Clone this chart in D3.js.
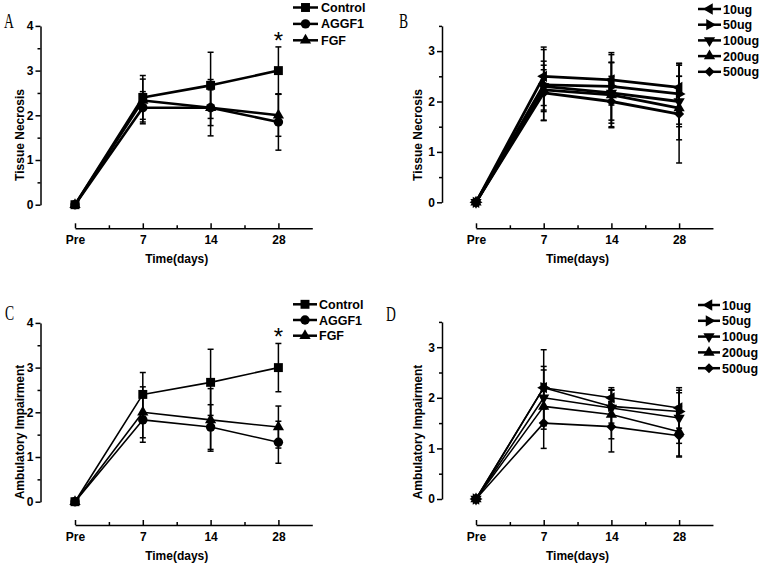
<!DOCTYPE html>
<html><head><meta charset="utf-8">
<script src="https://cdn.jsdelivr.net/npm/d3@7"></script>
<style>body{margin:0;background:#fff}svg{display:block}</style>
</head><body>
<svg id="c" width="764" height="568"></svg>
<script>
// ---------- data ----------
const timeLabels = ["Pre", "7", "14", "28"];
const groupNames = ["Control", "AGGF1", "FGF"];
const doseNames = ["10ug", "50ug", "100ug", "200ug", "500ug"];

// Panel A: Tissue Necrosis by group
const necrosisControl = [0, 2.4, 2.67, 3.0];
const necrosisControlErr = [0, 0.49, 0.74, 0.53];
const necrosisAGGF1 = [0, 2.17, 2.17, 1.85];
const necrosisAGGF1Err = [0, 0.36, 0.63, 0.63];
const necrosisFGF = [0, 2.33, 2.17, 2.0];
const necrosisFGFErr = [0, 0.48, 0.4, 0.47];

// Panel B: Tissue Necrosis by dose
const necrosis10 = [0, 2.5, 2.43, 2.28];
const necrosis10Err = [0, 0.58, 0.5, 0.48];
const necrosis50 = [0, 2.33, 2.3, 2.15];
const necrosis50Err = [0, 0.7, 0.67, 0.6];
const necrosis100 = [0, 2.3, 2.17, 2.0];
const necrosis100Err = [0, 0.5, 0.6, 0.5];
const necrosis200 = [0, 2.23, 2.13, 1.87];
const necrosis200Err = [0, 0.4, 0.65, 0.63];
const necrosis500 = [0, 2.17, 2.0, 1.75];
const necrosis500Err = [0, 0.55, 0.5, 0.97];

// Panel C: Ambulatory Impairment by group
const ambulControl = [0, 2.4, 2.67, 3.0];
const ambulControlErr = [0, 0.49, 0.74, 0.54];
const ambulAGGF1 = [0, 1.83, 1.67, 1.33];
const ambulAGGF1Err = [0, 0.5, 0.5, 0.47];
const ambulFGF = [0, 2.0, 1.83, 1.67];
const ambulFGFErr = [0, 0.57, 0.7, 0.47];

// Panel D: Ambulatory Impairment by dose
const ambul10 = [0, 2.2, 2.0, 1.8];
const ambul10Err = [0, 0.42, 0.2, 0.4];
const ambul50 = [0, 2.2, 1.83, 1.73];
const ambul50Err = [0, 0.75, 0.33, 0.42];
const ambul100 = [0, 2.0, 1.8, 1.6];
const ambul100Err = [0, 0.55, 0.35, 0.5];
const ambul200 = [0, 1.83, 1.67, 1.33];
const ambul200Err = [0, 0.45, 0.48, 0.5];
const ambul500 = [0, 1.5, 1.43, 1.25];
const ambul500Err = [0, 0.5, 0.5, 0.4];

const yTicks4 = [0, 1, 2, 3, 4];
const yTicks35 = [0, 1, 2, 3];

// ---------- drawing ----------
const svg = d3.select("#c");
svg.append("rect").attr("width", 764).attr("height", 568).attr("fill", "#fff");
const FONT = "'Liberation Sans', Arial, sans-serif";

const groupMarkers = [
  {type: d3.symbolSquare, size: 80, rot: 0},
  {type: d3.symbolCircle, size: 70, rot: 0},
  {type: d3.symbolTriangle, size: 55, rot: 0}
];
const doseMarkers = [
  {type: d3.symbolTriangle, size: 55, rot: -90},
  {type: d3.symbolTriangle, size: 55, rot: 90},
  {type: d3.symbolTriangle, size: 55, rot: 180},
  {type: d3.symbolTriangle, size: 55, rot: 0},
  {type: d3.symbolSquare, size: 50, rot: 45}
];

function drawPanel(cfg) {
  const g = svg.append("g");
  const x = d3.scaleLinear().domain([0, 3.5]).range([cfg.x0, cfg.x0 + 3.5 * cfg.step]);
  const y = d3.scaleLinear().domain([0, cfg.ymax]).range([cfg.y0, cfg.y0 - cfg.ymax * cfg.unit]);

  // y axis
  const ya = g.append("g").attr("transform", `translate(${cfg.ax},0)`)
    .call(d3.axisLeft(y).tickValues(cfg.yTicks).tickSize(5).tickSizeOuter(0).tickPadding(2).tickFormat(d3.format("d")));
  const minorY = d3.range(0.5, cfg.ymax + 0.01, 1);
  const ym = g.append("g").attr("transform", `translate(${cfg.ax},0)`)
    .call(d3.axisLeft(y).tickValues(minorY).tickSize(3).tickSizeOuter(0).tickFormat(""));
  ym.select(".domain").remove();

  // x axis
  const xa = g.append("g").attr("transform", `translate(0,${cfg.xAxisY})`)
    .call(d3.axisBottom(x).tickValues([0, 1, 2, 3]).tickFormat(i => timeLabels[i]).tickSize(-5).tickSizeOuter(0).tickPadding(7));
  const xm = g.append("g").attr("transform", `translate(0,${cfg.xAxisY})`)
    .call(d3.axisBottom(x).tickValues([0.5, 1.5, 2.5]).tickSize(-3).tickSizeOuter(0).tickFormat(""));
  xm.select(".domain").remove();

  [ya, ym, xa, xm].forEach(a => {
    a.selectAll("path,line").attr("stroke", "#000").attr("stroke-width", 1.5);
    a.selectAll("text").attr("fill", "#000").attr("font-family", FONT).attr("font-weight", "bold").attr("font-size", 12);
  });

  // axis titles
  g.append("text").attr("transform", `translate(${cfg.ylabX},${cfg.ylabY}) rotate(-90)`)
    .attr("text-anchor", "middle").attr("font-family", FONT).attr("font-weight", "bold").attr("font-size", 12)
    .text(cfg.ylabel);
  g.append("text").attr("x", x(1.5) + cfg.xlabDx).attr("y", cfg.xAxisY + 35)
    .attr("text-anchor", "middle").attr("font-family", FONT).attr("font-weight", "bold").attr("font-size", 12)
    .text("Time(days)");

  // panel letter
  g.append("text").attr("transform", `translate(${cfg.letterX},${cfg.letterY}) scale(0.62,1)`)
    .attr("font-family", "'Liberation Serif', 'Times New Roman', serif").attr("font-size", 22)
    .text(cfg.letter);

  const line = d3.line().x((d, j) => x(j)).y(d => y(d));

  // lines
  cfg.series.forEach(s => {
    g.append("path").datum(s.mean).attr("d", line).attr("fill", "none")
      .attr("stroke", "#000").attr("stroke-width", cfg.lw).attr("stroke-linejoin", "round");
  });
  // error bars
  cfg.series.forEach(s => {
    s.mean.forEach((m, j) => {
      const e = s.err[j];
      if (!e) return;
      const cx = x(j);
      g.append("line").attr("x1", cx).attr("x2", cx).attr("y1", y(m - e)).attr("y2", y(m + e))
        .attr("stroke", "#000").attr("stroke-width", 1.5);
      [m - e, m + e].forEach(v => {
        g.append("line").attr("x1", cx - 3).attr("x2", cx + 3).attr("y1", y(v)).attr("y2", y(v))
          .attr("stroke", "#000").attr("stroke-width", 1.5);
      });
    });
  });
  // markers
  cfg.series.forEach((s, k) => {
    const mk = cfg.markers[k];
    s.mean.forEach((m, j) => {
      g.append("path").attr("d", d3.symbol().type(mk.type).size(mk.size)())
        .attr("transform", `translate(${x(j)},${y(m)}) rotate(${mk.rot})`).attr("fill", "#000");
    });
  });

  // legend
  cfg.series.forEach((s, k) => {
    const ly = cfg.legY + k * cfg.legDy;
    g.append("line").attr("x1", cfg.legX1).attr("x2", cfg.legX2).attr("y1", ly).attr("y2", ly)
      .attr("stroke", "#000").attr("stroke-width", 2.5);
    const mk = cfg.markers[k];
    g.append("path").attr("d", d3.symbol().type(mk.type).size(mk.size)())
      .attr("transform", `translate(${(cfg.legX1 + cfg.legX2) / 2},${ly}) rotate(${mk.rot})`).attr("fill", "#000");
    g.append("text").attr("x", cfg.legTx).attr("y", ly).attr("dy", "0.36em")
      .attr("font-family", FONT).attr("font-weight", "bold").attr("font-size", 12.5)
      .text(s.name);
  });

  if (cfg.star) {
    g.append("text").attr("x", x(3)).attr("y", cfg.starY).attr("text-anchor", "middle")
      .attr("font-family", FONT).attr("font-size", 24).text("*");
  }
}

drawPanel({
  letter: "A", letterX: 4, letterY: 28,
  x0: 75, step: 67.8, y0: 204.7, unit: 44.7, ymax: 4, yTicks: yTicks4, ax: 40.5, xAxisY: 228.3,
  ylabel: "Tissue Necrosis", ylabX: 24, ylabY: 135, xlabDx: 0, lw: 2.6,
  markers: groupMarkers,
  series: [
    {name: groupNames[0], mean: necrosisControl, err: necrosisControlErr},
    {name: groupNames[1], mean: necrosisAGGF1, err: necrosisAGGF1Err},
    {name: groupNames[2], mean: necrosisFGF, err: necrosisFGFErr}
  ],
  legX1: 293, legX2: 318, legTx: 321, legY: 7.5, legDy: 16.4,
  star: true, starY: 49
});

drawPanel({
  letter: "B", letterX: 399, letterY: 28,
  x0: 476, step: 67.7, y0: 202.3, unit: 50.4, ymax: 3.5, yTicks: yTicks35, ax: 442, xAxisY: 228.3,
  ylabel: "Tissue Necrosis", ylabX: 422, ylabY: 135, xlabDx: 0, lw: 2.8,
  markers: doseMarkers,
  series: [
    {name: doseNames[0], mean: necrosis10, err: necrosis10Err},
    {name: doseNames[1], mean: necrosis50, err: necrosis50Err},
    {name: doseNames[2], mean: necrosis100, err: necrosis100Err},
    {name: doseNames[3], mean: necrosis200, err: necrosis200Err},
    {name: doseNames[4], mean: necrosis500, err: necrosis500Err}
  ],
  legX1: 698, legX2: 721, legTx: 723, legY: 9, legDy: 15.7,
  star: false
});

drawPanel({
  letter: "C", letterX: 5, letterY: 320,
  x0: 75, step: 67.8, y0: 501.7, unit: 44.7, ymax: 4, yTicks: yTicks4, ax: 40.5, xAxisY: 525,
  ylabel: "Ambulatory Impairment", ylabX: 24, ylabY: 432, xlabDx: 0, lw: 1.6,
  markers: groupMarkers,
  series: [
    {name: groupNames[0], mean: ambulControl, err: ambulControlErr},
    {name: groupNames[1], mean: ambulAGGF1, err: ambulAGGF1Err},
    {name: groupNames[2], mean: ambulFGF, err: ambulFGFErr}
  ],
  legX1: 293, legX2: 317, legTx: 319, legY: 304.3, legDy: 15.7,
  star: true, starY: 345
});

drawPanel({
  letter: "D", letterX: 386, letterY: 321,
  x0: 476, step: 67.7, y0: 499, unit: 50.6, ymax: 3.5, yTicks: yTicks35, ax: 442, xAxisY: 525,
  ylabel: "Ambulatory Impairment", ylabX: 422, ylabY: 432, xlabDx: 0, lw: 1.6,
  markers: doseMarkers,
  series: [
    {name: doseNames[0], mean: ambul10, err: ambul10Err},
    {name: doseNames[1], mean: ambul50, err: ambul50Err},
    {name: doseNames[2], mean: ambul100, err: ambul100Err},
    {name: doseNames[3], mean: ambul200, err: ambul200Err},
    {name: doseNames[4], mean: ambul500, err: ambul500Err}
  ],
  legX1: 698, legX2: 720, legTx: 722, legY: 305, legDy: 15.8,
  star: false
});
</script>
</body></html>
